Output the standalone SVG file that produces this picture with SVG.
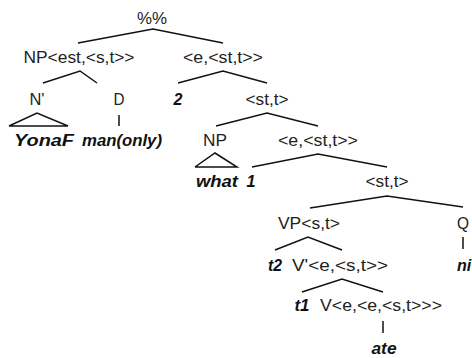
<svg xmlns="http://www.w3.org/2000/svg" width="472" height="358" viewBox="0 0 472 358">
<style>
text{font-family:"Liberation Sans",Arial,sans-serif;font-size:16px;text-anchor:middle;fill:#222}
.b{font-weight:bold;font-style:italic;fill:#111}
#connectors line,#connectors polyline{stroke:#111;stroke-width:1.5;fill:none}
</style>
<rect width="472" height="358" fill="#fff"/>
<g id="connectors">
<polyline points="78,43 153,29 223,43"/>
<polyline points="43,83 80,71 97,83"/>
<polyline points="178,83 223,71 267,83"/>
<polyline points="9,126 37,113 68,126 9,126"/>
<line x1="119" y1="115" x2="119" y2="126"/>
<polyline points="216,126 267,113 318,126"/>
<polyline points="195,167 215,153 237,167 195,167"/>
<polyline points="252,167 318,154 387,167"/>
<polyline points="310,208 387,196 463,207"/>
<polyline points="275,250 308,237 342,250"/>
<line x1="463" y1="237" x2="463" y2="249"/>
<polyline points="302,292 342,279 383,292"/>
<line x1="383" y1="321" x2="383" y2="333"/>
</g>
<g id="n-root"><text x="152" y="24" textLength="30" lengthAdjust="spacingAndGlyphs">%%</text></g>
<g id="n-np-est"><text x="79" y="63" textLength="111" lengthAdjust="spacingAndGlyphs">NP&lt;est,&lt;s,t&gt;&gt;</text></g>
<g id="n-e-st-t-1"><text x="223" y="63" textLength="80" lengthAdjust="spacingAndGlyphs">&lt;e,&lt;st,t&gt;&gt;</text></g>
<g id="n-nbar"><text x="37" y="105" textLength="15" lengthAdjust="spacingAndGlyphs">N'</text></g>
<g id="n-d"><text x="119" y="105" textLength="11" lengthAdjust="spacingAndGlyphs">D</text></g>
<g id="n-2"><text class="b" x="178" y="105">2</text></g>
<g id="n-st-t-1"><text x="267" y="105" textLength="43" lengthAdjust="spacingAndGlyphs">&lt;st,t&gt;</text></g>
<g id="n-yonaf"><text class="b" x="44" y="146" textLength="60" lengthAdjust="spacingAndGlyphs">YonaF</text></g>
<g id="n-man"><text class="b" x="122" y="146" textLength="80" lengthAdjust="spacingAndGlyphs">man(only)</text></g>
<g id="n-np"><text x="215" y="146" textLength="24" lengthAdjust="spacingAndGlyphs">NP</text></g>
<g id="n-e-st-t-2"><text x="318" y="146" textLength="80" lengthAdjust="spacingAndGlyphs">&lt;e,&lt;st,t&gt;&gt;</text></g>
<g id="n-what"><text class="b" x="217" y="187" textLength="42" lengthAdjust="spacingAndGlyphs">what</text></g>
<g id="n-1"><text class="b" x="251" y="187">1</text></g>
<g id="n-st-t-2"><text x="387" y="187" textLength="43" lengthAdjust="spacingAndGlyphs">&lt;st,t&gt;</text></g>
<g id="n-vp"><text x="309" y="229" textLength="62" lengthAdjust="spacingAndGlyphs">VP&lt;s,t&gt;</text></g>
<g id="n-q"><text x="463" y="229" textLength="12" lengthAdjust="spacingAndGlyphs">Q</text></g>
<g id="n-t2"><text class="b" x="275" y="271" textLength="14" lengthAdjust="spacingAndGlyphs">t2</text></g>
<g id="n-vbar"><text x="340" y="271" textLength="96" lengthAdjust="spacingAndGlyphs">V'&lt;e,&lt;s,t&gt;&gt;</text></g>
<g id="n-ni"><text class="b" x="457" y="271" style="text-anchor:start">ni</text></g>
<g id="n-t1"><text class="b" x="302" y="311" textLength="15" lengthAdjust="spacingAndGlyphs">t1</text></g>
<g id="n-v"><text x="381" y="311" textLength="122" lengthAdjust="spacingAndGlyphs">V&lt;e,&lt;e,&lt;s,t&gt;&gt;&gt;</text></g>
<g id="n-ate"><text class="b" x="384" y="354" textLength="25" lengthAdjust="spacingAndGlyphs">ate</text></g>
</svg>
